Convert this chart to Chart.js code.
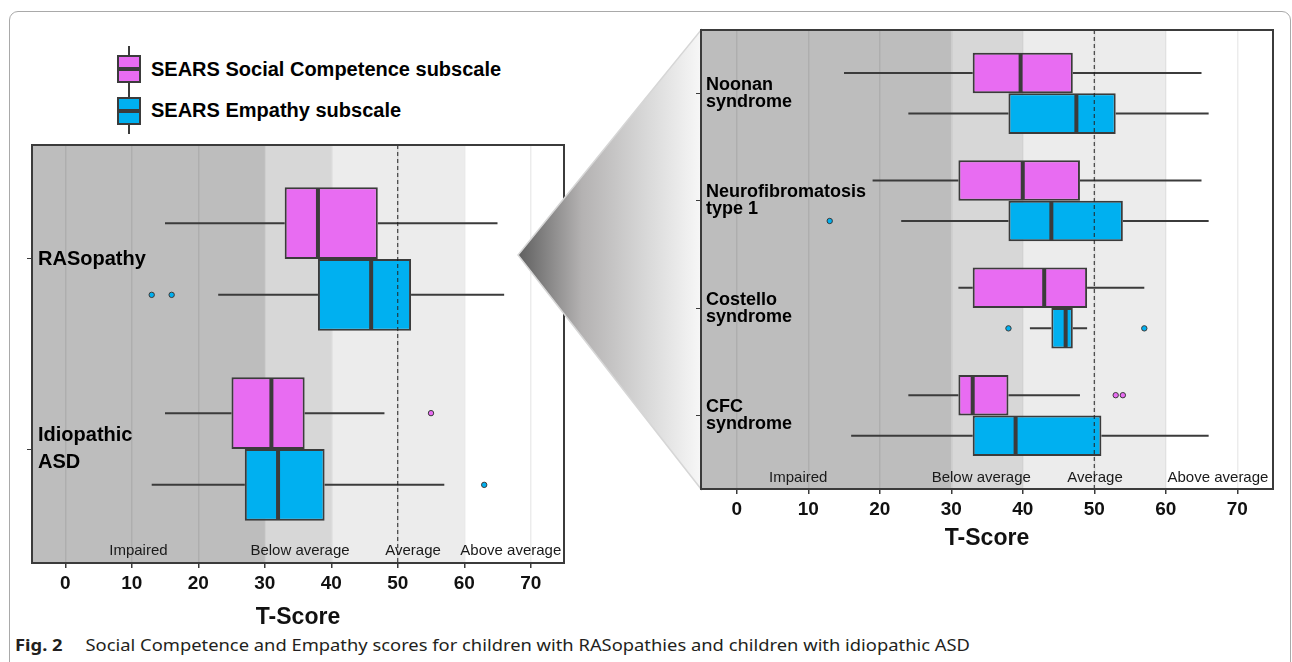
<!DOCTYPE html>
<html lang="en">
<head>
<meta charset="UTF-8">
<title>Social Competence and Empathy scores</title>
<script src="https://cdn.jsdelivr.net/npm/chart.js"></script>
<style>
    body {
        margin: 0;
        width: 1292px;
        height: 662px;
        overflow: hidden;
        background: #ffffff;
        position: relative;
        font-family: 'Liberation Sans', Arial, sans-serif;
    }
    .frame {
        position: absolute;
        left: 9px;
        top: 11px;
        width: 1282px;
        height: 700px;
        border: 1px solid #a9a9a9;
        border-radius: 9px;
        box-sizing: border-box;
    }
    #leftChart { position: absolute; left: 0; top: 135px; z-index: 1; }
    #funnel { position: absolute; left: 0; top: 0; z-index: 2; }
    #rightChart { position: absolute; left: 690px; top: 20px; z-index: 3; }
    .whisker { position: absolute; left: 128px; width: 2px; background: #3b3b3b; }
    .kbox {
        position: absolute;
        left: 117px;
        width: 24px;
        height: 28px;
        border: 2px solid #3b3b3b;
        box-sizing: border-box;
    }
    .kbox::after {
        content: "";
        position: absolute;
        left: 0;
        right: 0;
        top: 10px;
        height: 4px;
        background: #3b3b3b;
    }
    .ktext {
        position: absolute;
        left: 151px;
        font-weight: bold;
        font-size: 20px;
        color: #000;
        line-height: 24px;
    }
    .caption {
        position: absolute;
        left: 15px;
        top: 634px;
        font-family: 'Noto Sans', sans-serif;
        font-size: 16px;
        color: #231f20;
        white-space: nowrap;
        transform-origin: left center;
    }
    .caption b { margin-right: 20px; }
</style>
</head>
<body>
<div class="frame"></div>

<!-- legend -->
<div class="whisker" style="top:46px;height:45px"></div>
<div class="kbox" style="top:55px;background:#e86cf2"></div>
<div class="whisker" style="top:89px;height:45px"></div>
<div class="kbox" style="top:97px;background:#00b0f0"></div>
<div class="ktext" style="top:57px">SEARS Social Competence subscale</div>
<div class="ktext" style="top:98px">SEARS Empathy subscale</div>

<canvas id="leftChart" width="580" height="505"></canvas>

<svg id="funnel" width="1292" height="662">
    <defs>
        <linearGradient id="fade" x1="518" y1="0" x2="701" y2="0" gradientUnits="userSpaceOnUse">
            <stop offset="0" stop-color="#5f5f5f"/>
            <stop offset="0.35" stop-color="#b4b2b2"/>
            <stop offset="0.7" stop-color="#d8d8d8"/>
            <stop offset="1" stop-color="#f7f7f7"/>
        </linearGradient>
    </defs>
    <polygon points="518,255 701,30 701,489" fill="url(#fade)" stroke="#d6d6d6" stroke-width="1.5"/>
</svg>

<canvas id="rightChart" width="600" height="545"></canvas>

<div class="caption" id="caption"><b>Fig. 2</b>Social Competence and Empathy scores for children with RASopathies and children with idiopathic ASD</div>

<script>
    // x axis
    const tickValues = [0, 10, 20, 30, 40, 50, 60, 70];
    const bandEdges = [-5, 30, 40, 60, 75];
    const bandColors = ["#bdbdbd", "#d7d7d7", "#ececec", "#ffffff"];
    const bandNames = ["Impaired", "Below average", "Average", "Above average"];

    // left panel: [min, q1, median, q3, max]
    const leftGroups = ["RASopathy", ["Idiopathic", "ASD"]];
    const leftCompetence = [[15, 33, 38, 47, 65], [15, 25, 31, 36, 48]];
    const leftEmpathy = [[23, 38, 46, 52, 66], [13, 27, 32, 39, 57]];
    const leftCompetenceOut = [[], [55]];
    const leftEmpathyOut = [[13, 16], [63]];
    const leftBandLabelX = [11, 35.3, 52.3, 67];

    // right panel
    const rightGroups = [["Noonan", "syndrome"], ["Neurofibromatosis", "type 1"], ["Costello", "syndrome"], ["CFC", "syndrome"]];
    const rightCompetence = [[15, 33, 39.7, 47, 65], [19, 31, 40, 48, 65], [31, 33, 43, 49, 57], [24, 31, 33, 38, 48]];
    const rightEmpathy = [[24, 38, 47.5, 53, 66], [23, 38, 44, 54, 66], [41, 44, 46, 47, 49], [16, 33, 39, 51, 66]];
    const rightCompetenceOut = [[], [], [], [53, 54]];
    const rightEmpathyOut = [[], [13], [38, 57], []];
    const rightBandLabelX = [8.6, 34.2, 50.1, 67.3];

    const PINK = "#e86cf2";
    const BLUE = "#00b0f0";
    const INK = "#3b3b3b";

    const panelPlugin = {
        id: "panel",
        beforeDraw(chart) {
            const {ctx, chartArea: a, scales: {x}} = chart;
            ctx.save();
            for (let i = 0; i < bandEdges.length - 1; i++) {
                const x0 = Math.max(a.left, x.getPixelForValue(bandEdges[i]));
                const x1 = Math.min(a.right, x.getPixelForValue(bandEdges[i + 1]));
                ctx.fillStyle = bandColors[i];
                ctx.fillRect(x0, a.top, x1 - x0, a.bottom - a.top);
            }
            ctx.restore();
        },
        afterDatasetsDraw(chart, args, opts) {
            const {ctx, chartArea: a, scales: {x}} = chart;
            ctx.save();
            ctx.strokeStyle = INK;
            chart.data.datasets.forEach((ds, di) => {
                const meta = chart.getDatasetMeta(di);
                meta.data.forEach((bar, i) => {
                    const s = ds.stats[i];
                    const y = bar.y, h = bar.height;
                    // whiskers
                    ctx.lineWidth = 2;
                    ctx.beginPath();
                    ctx.moveTo(x.getPixelForValue(s[0]), y);
                    ctx.lineTo(x.getPixelForValue(s[1]), y);
                    ctx.moveTo(x.getPixelForValue(s[3]), y);
                    ctx.lineTo(x.getPixelForValue(s[4]), y);
                    ctx.stroke();
                    // median
                    const m = x.getPixelForValue(s[2]);
                    ctx.lineWidth = 4;
                    ctx.beginPath();
                    ctx.moveTo(m, y - h / 2 + 1);
                    ctx.lineTo(m, y + h / 2 - 1);
                    ctx.stroke();
                    // outliers
                    ctx.lineWidth = 1;
                    ds.outliers[i].forEach(v => {
                        ctx.beginPath();
                        ctx.arc(x.getPixelForValue(v), y, 2.7, 0, Math.PI * 2);
                        ctx.fillStyle = ds.backgroundColor;
                        ctx.fill();
                        ctx.stroke();
                    });
                });
            });

            // average line
            const p50 = x.getPixelForValue(50);
            ctx.lineWidth = 1;
            ctx.strokeStyle = "#222";
            ctx.setLineDash([4, 3]);
            ctx.beginPath();
            ctx.moveTo(p50, a.top);
            ctx.lineTo(p50, a.bottom);
            ctx.stroke();
            ctx.setLineDash([]);

            // band names
            ctx.fillStyle = "#1a1a1a";
            ctx.font = "15px 'Liberation Sans', Arial, sans-serif";
            ctx.textAlign = "center";
            ctx.textBaseline = "middle";
            bandNames.forEach((t, i) => {
                ctx.fillText(t, x.getPixelForValue(opts.labelX[i]), a.bottom - opts.labelLift);
            });

            // panel border
            ctx.lineWidth = 2;
            ctx.strokeStyle = INK;
            ctx.strokeRect(a.left, a.top, a.right - a.left, a.bottom - a.top);
            ctx.restore();
        }
    };

    function makePanel(id, p) {
        const ctx = document.getElementById(id).getContext("2d");
        const toBars = stats => stats.map((s, i) => ({x: [s[1], s[3]], y: i + 1}));
        return new Chart(ctx, {
            type: "bar",
            data: {
                datasets: [
                    {
                        label: "SEARS Social Competence subscale",
                        data: toBars(p.comp),
                        stats: p.comp,
                        outliers: p.compOut,
                        backgroundColor: PINK,
                        borderColor: INK,
                        borderWidth: 2,
                        borderSkipped: false,
                        categoryPercentage: 0.755,
                        barPercentage: 1
                    },
                    {
                        label: "SEARS Empathy subscale",
                        data: toBars(p.emp),
                        stats: p.emp,
                        outliers: p.empOut,
                        backgroundColor: BLUE,
                        borderColor: INK,
                        borderWidth: 2,
                        borderSkipped: false,
                        categoryPercentage: 0.755,
                        barPercentage: 1
                    }
                ]
            },
            options: {
                indexAxis: "y",
                responsive: false,
                animation: false,
                layout: {padding: p.padding},
                plugins: {
                    legend: {display: false},
                    tooltip: {enabled: false},
                    panel: {labelX: p.labelX, labelLift: p.labelLift}
                },
                scales: {
                    x: {
                        type: "linear",
                        position: "bottom",
                        min: -5,
                        max: 75,
                        afterBuildTicks: axis => { axis.ticks = tickValues.map(v => ({value: v})); },
                        afterFit: axis => {
                            axis.height = p.xHeight;
                            axis.paddingLeft = 0;
                            axis.paddingRight = 0;
                        },
                        border: {display: false},
                        grid: {
                            color: "rgba(0,0,0,0.075)",
                            lineWidth: 1.5,
                            tickColor: INK,
                            tickLength: 5
                        },
                        ticks: {
                            color: "#111",
                            padding: 4,
                            font: {family: "'Liberation Sans', Arial, sans-serif", size: 19, weight: "bold"}
                        },
                        title: {
                            display: true,
                            text: "T-Score",
                            color: "#111",
                            padding: {top: 0, bottom: p.titlePad},
                            font: {family: "'Liberation Sans', Arial, sans-serif", size: 23, weight: "bold"}
                        }
                    },
                    y: {
                        type: "linear",
                        reverse: true,
                        offset: false,
                        min: p.yMin,
                        max: p.yMax,
                        afterBuildTicks: axis => { axis.ticks = p.groups.map((g, i) => ({value: i + 1})); },
                        afterFit: axis => {
                            axis.width = 5;
                            axis.paddingTop = 0;
                            axis.paddingBottom = 0;
                        },
                        border: {display: false},
                        grid: {
                            offset: false,
                            drawOnChartArea: false,
                            tickColor: INK,
                            tickLength: 5
                        },
                        ticks: {
                            mirror: true,
                            padding: p.labelPad,
                            color: "#000",
                            callback: value => p.groups[value - 1],
                            font: {family: "'Liberation Sans', Arial, sans-serif", size: p.catSize, weight: "bold", lineHeight: p.catLine}
                        }
                    }
                }
            },
            plugins: [panelPlugin]
        });
    }

    makePanel("leftChart", {
        groups: leftGroups,
        comp: leftCompetence,
        emp: leftEmpathy,
        compOut: leftCompetenceOut,
        empOut: leftEmpathyOut,
        labelX: leftBandLabelX,
        yMin: 0.4,
        yMax: 2.6,
        padding: {left: 27, right: 16, top: 10, bottom: 0},
        xHeight: 77,
        titlePad: 9,
        labelPad: 6,
        labelLift: 12,
        catSize: 20,
        catLine: 1.35
    });

    makePanel("rightChart", {
        groups: rightGroups,
        comp: rightCompetence,
        emp: rightEmpathy,
        compOut: rightCompetenceOut,
        empOut: rightEmpathyOut,
        labelX: rightBandLabelX,
        yMin: 0.41,
        yMax: 4.685,
        padding: {left: 6, right: 17, top: 10, bottom: 0},
        xHeight: 76,
        titlePad: 13,
        labelPad: 5,
        labelLift: 11,
        catSize: 18,
        catLine: 0.95
    });

    // stretch caption to the printed width
    const cap = document.getElementById("caption");
    const w = cap.getBoundingClientRect().width;
    cap.style.transform = "scaleX(" + (955 / w) + ")";
</script>
</body>
</html>
